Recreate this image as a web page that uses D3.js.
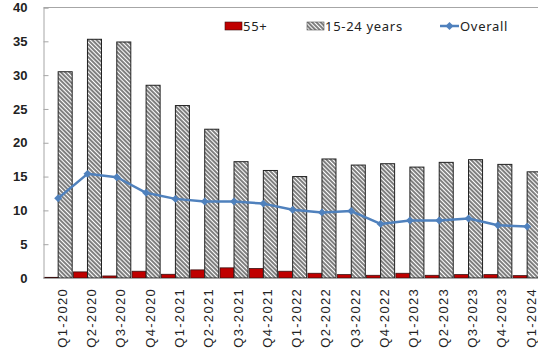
<!DOCTYPE html>
<html>
<head>
<meta charset="utf-8">
<script src="https://cdn.jsdelivr.net/npm/d3@7"></script>
<style>
  html, body { margin: 0; padding: 0; background: #fff; }
  svg { display: block; }
</style>
</head>
<body>
<svg id="chart" width="538" height="349"></svg>
<script>
const categories = ["Q1-2020","Q2-2020","Q3-2020","Q4-2020","Q1-2021","Q2-2021","Q3-2021","Q4-2021",
  "Q1-2022","Q2-2022","Q3-2022","Q4-2022","Q1-2023","Q2-2023","Q3-2023","Q4-2023","Q1-2024"];
const age55 = [0.1,0.9,0.3,1.0,0.55,1.2,1.5,1.4,1.0,0.7,0.5,0.4,0.7,0.4,0.5,0.5,0.35];
const youth = [30.5,35.3,34.9,28.5,25.5,22.0,17.2,15.9,15.0,17.6,16.7,16.9,16.4,17.1,17.5,16.8,15.7];
const overall = [11.8,15.4,14.9,12.6,11.7,11.3,11.3,11.0,10.1,9.7,9.9,8.0,8.5,8.5,8.8,7.8,7.6];
const yTicks = [0,5,10,15,20,25,30,35,40];
const seriesNames = ["55+","15-24 years","Overall"];

(function () {
const svg = d3.select("#chart");
const mLeft = 43.5, mRight = 541.8, mTop = 7.5, mBottom = 278;

const defs = svg.append("defs");
const pat = defs.append("pattern")
  .attr("id","hatch").attr("patternUnits","userSpaceOnUse")
  .attr("width",3).attr("height",3)
  .attr("patternTransform","rotate(-45)");
pat.append("rect").attr("width",3).attr("height",3).attr("fill","#ffffff");
pat.append("line").attr("x1",1).attr("y1",0).attr("x2",1).attr("y2",3)
  .attr("stroke","#3a3a3a").attr("stroke-width",1.3);

const x = d3.scaleBand().domain(categories).range([mLeft, mRight]).paddingInner(0).paddingOuter(0);
const xs = d3.scaleBand().domain(["55+","15-24"]).range([0, x.bandwidth()]).paddingInner(0).paddingOuter(0.045);
const y = d3.scaleLinear().domain([0,40]).range([mBottom, mTop]);

const axisColor = "#a6a6a6";
svg.append("line").attr("x1",mLeft).attr("x2",mRight).attr("y1",mTop).attr("y2",mTop).attr("stroke",axisColor);

const g = svg.append("g");
g.selectAll("rect.b55").data(categories).join("rect").attr("class","b55")
  .attr("x", (d) => x(d) + xs("55+"))
  .attr("width", xs.bandwidth())
  .attr("y", (d,i) => y(age55[i]))
  .attr("height", (d,i) => y(0) - y(age55[i]))
  .attr("fill","#c00000").attr("stroke","#3a1010").attr("stroke-width",0.8);
g.selectAll("rect.by").data(categories).join("rect").attr("class","by")
  .attr("x", (d) => x(d) + xs("15-24"))
  .attr("width", xs.bandwidth())
  .attr("y", (d,i) => y(youth[i]))
  .attr("height", (d,i) => y(0) - y(youth[i]))
  .attr("fill","url(#hatch)").attr("stroke","#222").attr("stroke-width",1);

const yAxis = d3.axisLeft(y).tickValues(yTicks).tickSize(-5).tickPadding(16).tickFormat(d3.format("d"));
const ya = svg.append("g").attr("transform",`translate(${mLeft},0)`).call(yAxis);
ya.select(".domain").attr("stroke",axisColor);
ya.selectAll(".tick line").attr("stroke",axisColor);
ya.selectAll(".tick text").attr("font-family","'Liberation Sans', Arial, sans-serif")
  .attr("font-size",13).attr("font-weight","bold").attr("fill","#222");

const xAxis = d3.axisBottom(x).tickSize(0).tickSizeOuter(0);
const xa = svg.append("g").attr("transform",`translate(0,${mBottom})`).call(xAxis);
xa.select(".domain").attr("stroke",axisColor);
xa.selectAll(".tick text")
  .attr("font-family","'Liberation Sans', Arial, sans-serif")
  .attr("font-size",13).attr("fill","#222")
  .attr("letter-spacing","1.3px")
  .attr("text-anchor","end")
  .attr("dy",null)
  .attr("transform","translate(8.5,10) rotate(-90)")
  .attr("x",0).attr("y",0);

const lineColor = "#4f81bd";
const cx = (i) => x(categories[i]) + x.bandwidth()/2;
const line = d3.line().x((d,i) => cx(i)).y((d) => y(d));
svg.append("path").datum(overall).attr("d",line).attr("fill","none")
  .attr("stroke",lineColor).attr("stroke-width",2.5).attr("stroke-linejoin","round");
const diamond = d3.symbol().type(d3.symbolDiamond2).size(40);
svg.selectAll("path.mk").data(overall).join("path").attr("class","mk")
  .attr("d",diamond)
  .attr("transform",(d,i) => `translate(${cx(i)},${y(d)})`)
  .attr("fill",lineColor);

const lg = svg.append("g").attr("font-family","'Noto Sans', 'Open Sans', sans-serif")
  .attr("font-size",13).attr("fill","#222").attr("letter-spacing","0.7px");
lg.append("rect").attr("x",225).attr("y",22).attr("width",17).attr("height",8)
  .attr("fill","#c00000").attr("stroke","#3a1010").attr("stroke-width",0.6);
lg.append("text").attr("x",243).attr("y",31).text(seriesNames[0]);
lg.append("rect").attr("x",307).attr("y",22).attr("width",17).attr("height",8)
  .attr("fill","url(#hatch)").attr("stroke","#555").attr("stroke-width",0.6);
lg.append("text").attr("x",325).attr("y",31).text(seriesNames[1]);
lg.append("line").attr("x1",440).attr("x2",459).attr("y1",26).attr("y2",26)
  .attr("stroke",lineColor).attr("stroke-width",2.5);
lg.append("path").attr("d",diamond).attr("transform","translate(449.5,26)").attr("fill",lineColor);
lg.append("text").attr("x",460).attr("y",31).text(seriesNames[2]);
})();
</script>
</body>
</html>
